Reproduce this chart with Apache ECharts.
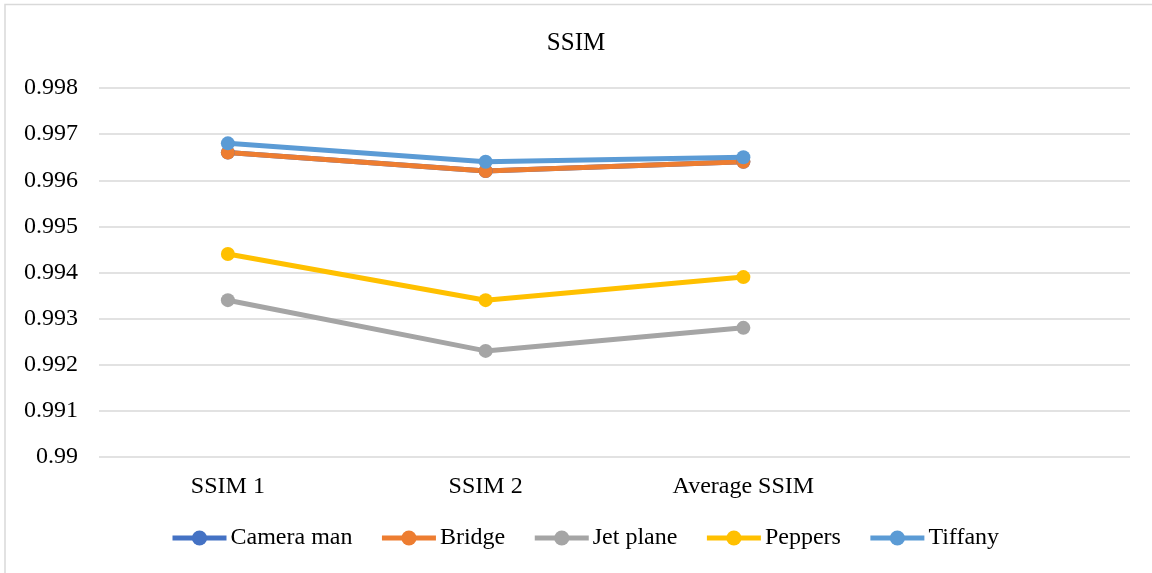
<!DOCTYPE html>
<html>
<head>
<meta charset="utf-8">
<script src="https://cdn.jsdelivr.net/npm/echarts@6/dist/echarts.min.js"></script>
<style>
  html, body { margin: 0; padding: 0; background: #ffffff; }
  #chart { width: 1152px; height: 573px; }
</style>
</head>
<body>
<div id="chart"></div>
<script>
// Categories (the fourth slot is left empty, as in the workbook layout)
const categories = ['SSIM 1', 'SSIM 2', 'Average SSIM', ''];

// SSIM values per test image
const cameraMan = [0.9966, 0.9962, 0.9964];
const bridge    = [0.9966, 0.9962, 0.9964];
const jetPlane  = [0.9934, 0.9923, 0.9928];
const peppers   = [0.9944, 0.9934, 0.9939];
const tiffany   = [0.9968, 0.9964, 0.9965];

// Y axis ticks
const yMin = 0.990;
const yMax = 0.998;
const yStep = 0.001;

const FONT = '"Liberation Serif", "Times New Roman", serif';

function lineSeries(name, data, color) {
  return {
    name: name,
    type: 'line',
    data: data,
    symbol: 'circle',
    symbolSize: 14,
    lineStyle: { width: 5, color: color },
    itemStyle: { color: color },
    emphasis: { disabled: true },
    animation: false
  };
}

const chart = echarts.init(document.getElementById('chart'), null, { renderer: 'canvas' });
chart.setOption({
  backgroundColor: '#ffffff',
  animation: false,
  title: {
    text: 'SSIM',
    left: 'center',
    top: 26,
    textStyle: { fontFamily: FONT, fontSize: 25, fontWeight: 'normal', color: '#000000' }
  },
  graphic: [{
    type: 'rect',
    shape: { x: 5, y: 4.5, width: 1200, height: 620 },
    style: { fill: 'none', stroke: '#d9d9d9', lineWidth: 1.5 },
    silent: true,
    z: -1
  }],
  legend: {
    bottom: 23,
    left: 170,
    padding: 0,
    itemWidth: 54,
    itemHeight: 19,
    itemGap: 27,
    lineStyle: { width: 5 },
    textStyle: { fontFamily: FONT, fontSize: 24, color: '#000000', padding: [0, 0, 0, -1] },
    data: ['Camera man', 'Bridge', 'Jet plane', 'Peppers', 'Tiffany']
  },
  grid: { left: 99, right: 22, top: 88, bottom: 116, containLabel: false },
  xAxis: {
    type: 'category',
    data: categories,
    boundaryGap: true,
    axisLine: { show: false },
    axisTick: { show: false },
    axisLabel: { fontFamily: FONT, fontSize: 24, color: '#000000', margin: 18 }
  },
  yAxis: {
    type: 'value',
    min: yMin,
    max: yMax,
    interval: yStep,
    axisLine: { show: false },
    axisTick: { show: false },
    splitLine: { lineStyle: { color: '#d9d9d9', width: 1.5 } },
    axisLabel: {
      fontFamily: FONT, fontSize: 24, color: '#000000', margin: 21,
      formatter: function (v) { return String(parseFloat(v.toFixed(3))); }
    }
  },
  series: [
    lineSeries('Camera man', cameraMan, '#4472C4'),
    lineSeries('Bridge', bridge, '#ED7D31'),
    lineSeries('Jet plane', jetPlane, '#A5A5A5'),
    lineSeries('Peppers', peppers, '#FFC000'),
    lineSeries('Tiffany', tiffany, '#5B9BD5')
  ]
});
</script>
</body>
</html>
